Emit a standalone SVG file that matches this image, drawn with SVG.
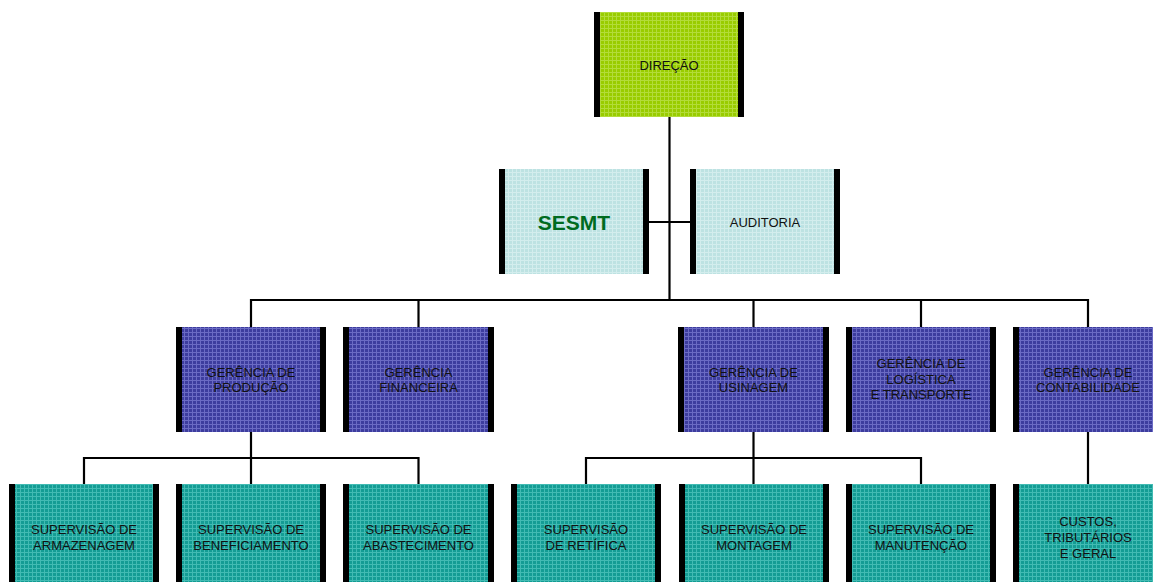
<svg xmlns="http://www.w3.org/2000/svg" width="1153" height="582" viewBox="0 0 1153 582">
  <defs>
    <pattern id="pGreen" patternUnits="userSpaceOnUse" width="4" height="4">
      <rect width="4" height="4" fill="#99cc00"/>
      <rect width="4" height="1" fill="#b3dc3a"/>
      <rect width="1" height="4" fill="#b3dc3a"/>
    </pattern>
    <pattern id="pLight" patternUnits="userSpaceOnUse" width="4" height="4">
      <rect width="4" height="4" fill="#bde2e2"/>
      <rect width="4" height="1" fill="#d3eded"/>
      <rect width="1" height="4" fill="#d3eded"/>
    </pattern>
    <pattern id="pPurple" patternUnits="userSpaceOnUse" width="4" height="4">
      <rect width="4" height="4" fill="#3d3d9e"/>
      <rect width="4" height="1" fill="#6b6bc4"/>
      <rect width="1" height="4" fill="#6b6bc4"/>
    </pattern>
    <pattern id="pTeal" patternUnits="userSpaceOnUse" width="4" height="4">
      <rect width="4" height="4" fill="#149c94"/>
      <rect width="4" height="1" fill="#42bbb3"/>
      <rect width="1" height="4" fill="#42bbb3"/>
    </pattern>
  </defs>
  <style>
    .bar { fill: #000000; }
    .t { font-family: "Liberation Sans", Arial, sans-serif; font-size: 13px; fill: #111111; text-anchor: middle; }
    .big { font-family: "Liberation Sans", Arial, sans-serif; font-size: 21px; font-weight: bold; fill: #006b1f; text-anchor: middle; }
    .ln { stroke: #000000; stroke-width: 2.2; fill: none; }
  </style>
  <rect width="1153" height="582" fill="#ffffff"/>

  <g id="connectors">
    <line class="ln" x1="669.5" y1="117" x2="669.5" y2="300"/>
    <line class="ln" x1="649" y1="222" x2="690" y2="222"/>
    <polyline class="ln" points="251,327 251,300 1088,300 1088,327"/>
    <line class="ln" x1="418.5" y1="300" x2="418.5" y2="327"/>
    <line class="ln" x1="753.5" y1="300" x2="753.5" y2="327"/>
    <line class="ln" x1="921" y1="300" x2="921" y2="327"/>
    <line class="ln" x1="251" y1="432" x2="251" y2="484"/>
    <polyline class="ln" points="84,484 84,458 418.5,458 418.5,484"/>
    <line class="ln" x1="753.5" y1="432" x2="753.5" y2="484"/>
    <polyline class="ln" points="586,484 586,458 921,458 921,484"/>
    <line class="ln" x1="1088" y1="432" x2="1088" y2="484"/>
  </g>

  <g id="direcao">
    <rect x="594" y="12" width="150" height="105" fill="url(#pGreen)"/>
    <rect class="bar" x="594" y="12" width="6" height="105"/>
    <rect class="bar" x="738" y="12" width="6" height="105"/>
    <text class="t" x="669" y="70">DIREÇÃO</text>
  </g>

  <g id="sesmt">
    <rect x="499" y="169" width="150" height="105" fill="url(#pLight)"/>
    <rect class="bar" x="499" y="169" width="6" height="105"/>
    <rect class="bar" x="643" y="169" width="6" height="105"/>
    <text class="big" x="574" y="230">SESMT</text>
  </g>

  <g id="auditoria">
    <rect x="690" y="169" width="150" height="105" fill="url(#pLight)"/>
    <rect class="bar" x="690" y="169" width="6" height="105"/>
    <rect class="bar" x="834" y="169" width="6" height="105"/>
    <text class="t" x="765" y="227">AUDITORIA</text>
  </g>

  <g id="ger-producao">
    <rect x="176" y="327" width="150" height="105" fill="url(#pPurple)"/>
    <rect class="bar" x="176" y="327" width="6" height="105"/>
    <rect class="bar" x="320" y="327" width="6" height="105"/>
    <text class="t" x="251" y="377">GERÊNCIA DE</text>
    <text class="t" x="251" y="392">PRODUÇÃO</text>
  </g>

  <g id="ger-financeira">
    <rect x="343" y="327" width="151" height="105" fill="url(#pPurple)"/>
    <rect class="bar" x="343" y="327" width="6" height="105"/>
    <rect class="bar" x="488" y="327" width="6" height="105"/>
    <text class="t" x="418.5" y="377">GERÊNCIA</text>
    <text class="t" x="418.5" y="392">FINANCEIRA</text>
  </g>

  <g id="ger-usinagem">
    <rect x="678" y="327" width="151" height="105" fill="url(#pPurple)"/>
    <rect class="bar" x="678" y="327" width="6" height="105"/>
    <rect class="bar" x="823" y="327" width="6" height="105"/>
    <text class="t" x="753.5" y="377">GERÊNCIA DE</text>
    <text class="t" x="753.5" y="392">USINAGEM</text>
  </g>

  <g id="ger-logistica">
    <rect x="846" y="327" width="150" height="105" fill="url(#pPurple)"/>
    <rect class="bar" x="846" y="327" width="6" height="105"/>
    <rect class="bar" x="990" y="327" width="6" height="105"/>
    <text class="t" x="921" y="368">GERÊNCIA DE</text>
    <text class="t" x="921" y="384">LOGÍSTICA</text>
    <text class="t" x="921" y="399">E TRANSPORTE</text>
  </g>

  <g id="ger-contabilidade">
    <rect x="1013" y="327" width="150" height="105" fill="url(#pPurple)"/>
    <rect class="bar" x="1013" y="327" width="6" height="105"/>
    <rect class="bar" x="1157" y="327" width="6" height="105"/>
    <text class="t" x="1088" y="377">GERÊNCIA DE</text>
    <text class="t" x="1088" y="392">CONTABILIDADE</text>
  </g>

  <g id="sup-armazenagem">
    <rect x="9" y="484" width="150" height="105" fill="url(#pTeal)"/>
    <rect class="bar" x="9" y="484" width="6" height="105"/>
    <rect class="bar" x="153" y="484" width="6" height="105"/>
    <text class="t" x="84" y="534">SUPERVISÃO DE</text>
    <text class="t" x="84" y="550">ARMAZENAGEM</text>
  </g>

  <g id="sup-beneficiamento">
    <rect x="176" y="484" width="150" height="105" fill="url(#pTeal)"/>
    <rect class="bar" x="176" y="484" width="6" height="105"/>
    <rect class="bar" x="320" y="484" width="6" height="105"/>
    <text class="t" x="251" y="534">SUPERVISÃO DE</text>
    <text class="t" x="251" y="550">BENEFICIAMENTO</text>
  </g>

  <g id="sup-abastecimento">
    <rect x="343" y="484" width="151" height="105" fill="url(#pTeal)"/>
    <rect class="bar" x="343" y="484" width="6" height="105"/>
    <rect class="bar" x="488" y="484" width="6" height="105"/>
    <text class="t" x="418.5" y="534">SUPERVISÃO DE</text>
    <text class="t" x="418.5" y="550">ABASTECIMENTO</text>
  </g>

  <g id="sup-retifica">
    <rect x="511" y="484" width="150" height="105" fill="url(#pTeal)"/>
    <rect class="bar" x="511" y="484" width="6" height="105"/>
    <rect class="bar" x="655" y="484" width="6" height="105"/>
    <text class="t" x="586" y="534">SUPERVISÃO</text>
    <text class="t" x="586" y="550">DE RETÍFICA</text>
  </g>

  <g id="sup-montagem">
    <rect x="679" y="484" width="150" height="105" fill="url(#pTeal)"/>
    <rect class="bar" x="679" y="484" width="6" height="105"/>
    <rect class="bar" x="823" y="484" width="6" height="105"/>
    <text class="t" x="754" y="534">SUPERVISÃO DE</text>
    <text class="t" x="754" y="550">MONTAGEM</text>
  </g>

  <g id="sup-manutencao">
    <rect x="846" y="484" width="150" height="105" fill="url(#pTeal)"/>
    <rect class="bar" x="846" y="484" width="6" height="105"/>
    <rect class="bar" x="990" y="484" width="6" height="105"/>
    <text class="t" x="921" y="534">SUPERVISÃO DE</text>
    <text class="t" x="921" y="550">MANUTENÇÃO</text>
  </g>

  <g id="custos">
    <rect x="1013" y="484" width="150" height="105" fill="url(#pTeal)"/>
    <rect class="bar" x="1013" y="484" width="6" height="105"/>
    <text class="t" x="1088" y="526">CUSTOS,</text>
    <text class="t" x="1088" y="542">TRIBUTÁRIOS</text>
    <text class="t" x="1088" y="558">E GERAL</text>
  </g>
</svg>
